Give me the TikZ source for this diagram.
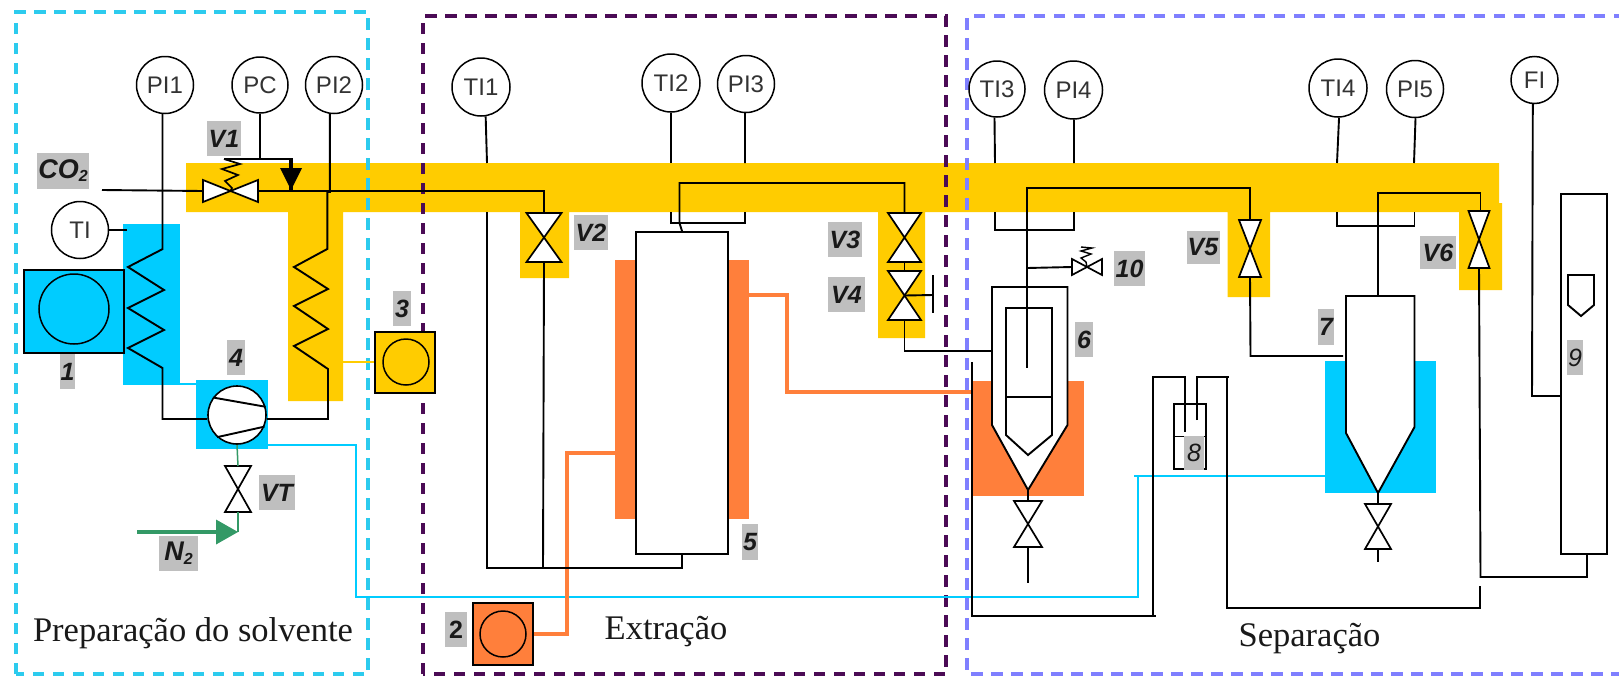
\documentclass[tikz,border=0pt]{standalone}
\usepackage{fontspec}
\setmainfont{Liberation Serif}
\newfontfamily\arialf{Liberation Sans}
\definecolor{ygold}{HTML}{FFCC00}
\definecolor{icecy}{HTML}{00CCFF}
\definecolor{hotor}{HTML}{FF7F3B}
\definecolor{framecy}{HTML}{2CCBEE}
\definecolor{framepu}{HTML}{4B0B55}
\definecolor{framevi}{HTML}{7F7FFF}
\definecolor{nitro}{HTML}{339966}
\definecolor{taggrey}{HTML}{BFBFBF}
\definecolor{insttext}{HTML}{333333}
\tikzset{
  pipe/.style={draw=black,line width=1.9pt,line join=miter},
  inst/.style={circle,draw=black,line width=1.5pt,fill=white,inner sep=0pt,text=insttext,font=\arialf\fontsize{24}{24}\selectfont},
  tagbox/.style={fill=taggrey,inner sep=0pt,font=\arialf\bfseries\itshape\fontsize{25}{25}\selectfont,text=black!90},
  areatext/.style={inner sep=0pt,font=\fontsize{34.5}{34.5}\selectfont,text=black!90},
  zonedash/.style={line width=4pt,dash pattern=on 11.5pt off 8.5pt},
  hotline/.style={draw=hotor,line width=4pt},
  coldline/.style={draw=icecy,line width=2.2pt},
  roundbox/.style={circle,draw=black,line width=1.5pt,inner sep=0pt},
  valvebox/.style={inner sep=0pt,outer sep=0pt},
}
% vertical valve: name, x, y, width, height
\newcommand{\vvalve}[5]{%
  \node[valvebox,minimum width=#4pt,minimum height=#5pt] (#1) at (#2,#3) {};
  \draw[pipe,fill=white,line width=1.7pt] (#1.north west) -- (#1.north east) -- (#1.south west) -- (#1.south east) -- cycle;}
% horizontal valve
\newcommand{\hvalve}[5]{%
  \node[valvebox,minimum width=#4pt,minimum height=#5pt] (#1) at (#2,#3) {};
  \draw[pipe,fill=white,line width=1.7pt] (#1.north west) -- (#1.south east) -- (#1.north east) -- (#1.south west) -- cycle;}
\newcommand{\lbl}[6]{\node[tagbox,minimum width=#4pt,minimum height=#5pt] (#1) at (#2,#3) {#6};}
\begin{document}
\begin{tikzpicture}[x=1pt,y=-1pt]
\useasboundingbox (0,0) rectangle (1619,675);
\fill[white] (0,0) rectangle (1619,675);
% --- coloured fills
\fill[ygold] (186,163) -- (1499,163) -- (1499,203) -- (1502,203) -- (1502,290) -- (1459,290) -- (1459,212)
  -- (1270,212) -- (1270,297) -- (1227.5,297) -- (1227.5,212) -- (925,212) -- (925,338) -- (878,338) -- (878,212)
  -- (569,212) -- (569,278) -- (520,278) -- (520,212) -- (343,212) -- (343,401) -- (288,401) -- (288,212) -- (186,212) -- cycle;
\fill[icecy] (123,224) rectangle (179.5,385);
\fill[icecy] (196,380) rectangle (268,449);
\fill[icecy] (1325,361) rectangle (1436,493);
\fill[hotor] (615,260) rectangle (749,519);
\fill[hotor] (972,381) rectangle (1084,496);
% --- zone frames
\draw[framecy,zonedash] (16,674) -- (16,12) -- (368,12) -- (368,674) -- cycle;
\draw[framepu,zonedash] (423,674) -- (423,16) -- (946,16) -- (946,674) -- cycle;
\draw[framevi,zonedash] (1625,16) -- (967,16) -- (967,674) -- (1625,674);
% --- instruments
\node[inst,minimum size=57pt] (PI1) at (165,85) {PI1};
\node[inst,minimum size=56pt] (PC) at (260,85) {PC};
\node[inst,minimum size=57pt] (PI2) at (334,85) {PI2};
\node[inst,minimum size=57pt] (TI) at (80,230) {TI};
\node[inst,minimum size=58pt] (TI1) at (481,87) {TI1};
\node[inst,minimum size=58pt] (TI2) at (671,83) {TI2};
\node[inst,minimum size=57pt] (PI3) at (746,84) {PI3};
\node[inst,minimum size=56pt] (TI3) at (997,89) {TI3};
\node[inst,minimum size=58pt] (PI4) at (1073.5,90) {PI4};
\node[inst,minimum size=58pt] (TI4) at (1338,88) {TI4};
\node[inst,minimum size=57pt] (PI5) at (1415,89) {PI5};
\node[inst,minimum size=47pt] (FI) at (1534.5,80) {FI};
% --- equipment boxes
\node[draw=black,line width=1.9pt,fill=icecy,minimum width=100pt,minimum height=83pt,inner sep=0pt] (B1) at (74,311.5) {};
\node[roundbox,minimum size=70pt] (B1c) at (74,309) {};
\node[draw=black,line width=1.9pt,fill=ygold,minimum width=60pt,minimum height=61pt,inner sep=0pt] (B3) at (405,362.5) {};
\node[roundbox,minimum size=46pt] (B3c) at (406,362) {};
\node[draw=black,line width=1.9pt,fill=hotor,minimum width=60pt,minimum height=62pt,inner sep=0pt] (B2) at (503,634) {};
\node[roundbox,minimum size=46pt] (B2c) at (503,634) {};
% --- thin coloured links
\coordinate (chilltap) at (179.5,384);
\coordinate (pumptap) at (196,384);
\draw[icecy,line width=1.5pt] (chilltap) -- (pumptap);
\coordinate (legtap) at (343,362);
\draw[ygold,line width=1.5pt] (legtap) -- (B3.west |- legtap);
% --- cold and hot service lines
\coordinate (coldA) at (268,445);
\coordinate (coldB) at (1325,476);
\draw[coldline] (coldA) -- (356,445) -- (356,597) -- (1138,597) -- (1138,476) -- (coldB);
\coordinate (coldStub) at (1134,476);
\draw[coldline] (coldStub) -- (1138,476);
\coordinate (jk5L) at (615,453);
\coordinate (jk5R) at (749,295);
\coordinate (jk6) at (972,392);
\draw[hotline] (B2.east) -- (567,634) -- (567,453) -- (jk5L);
\draw[hotline] (jk5R) -- (787,295) -- (787,392) -- (jk6);
% --- vessel 5
\node[draw=black,line width=1.9pt,fill=white,minimum width=92pt,minimum height=322pt,inner sep=0pt] (R5) at (682,393) {};
% --- valves
\hvalve{V1}{230.5}{191}{55}{22}
\vvalve{V2}{544}{237.5}{35}{49}
\vvalve{V3}{904.5}{237.5}{33}{49}
\vvalve{V4}{904.5}{295.5}{33}{49}
\vvalve{V5}{1250}{248.5}{22}{57}
\vvalve{V6}{1479}{239.5}{21}{57}
\vvalve{VT}{238}{489}{26}{46}
\vvalve{V6out}{1028}{524}{28}{46}
\vvalve{V7out}{1378}{526.5}{26}{45}
\hvalve{V10}{1087}{267}{30}{16}
% --- pump 4
\node[circle,draw=black,line width=1.6pt,fill=white,minimum size=58pt,inner sep=0pt] (P4) at (237,415) {};
\draw[pipe] (P4.144) -- (P4.16);
\draw[pipe] (P4.228) -- (P4.-23);
% --- nitrogen feed
\coordinate (n2in) at (137,532);
\coordinate (n2tip) at (238,532);
\draw[nitro,line width=1.5pt] (P4.south) -- (VT.north);
\draw[nitro,line width=1.5pt] (VT.south) -- (n2tip);
\draw[nitro,line width=4pt] (n2in) -- (218,532);
\fill[nitro] (216,519.5) -- (216,544.5) -- (n2tip) -- cycle;
% --- process lines, preparation zone
\coordinate (co2in) at (102,190);
\draw[pipe] (co2in) -- (V1.west);
\draw[pipe] (V1.east) -| (V2.north);
\coordinate (tiend) at (127,230);
\draw[pipe] (TI.east) -- (tiend);
\draw[pipe] (PI1.265) -- ++(0,135) -- (128,267) -- (164,290) -- (128,308) -- (164,330) -- (128,348) -- (162.5,368) -- (162.5,419) -- (P4.west |- 0,419);
\draw[pipe] (PI2.262) -- ++(0,78) -- ++(-2.6,0) -- ++(0,57) -- (294,267) -- (328,289) -- (294,306) -- (328,329) -- (294,346) -- (328,369) -- (328,419) -- (P4.east |- 0,419);
% PC and its actuator
\coordinate (springTop) at (224,159);
\coordinate (actTip) at (291,190);
\draw[pipe] (PC.south) -- (260,159);
\draw[pipe] (springTop) -- (291,159);
\draw[black,line width=3.5pt] (291,158) -- (actTip);
\fill[black] (280,168) -- (302,168) -- (actTip) -- cycle;
\draw[pipe,line width=1.7pt] (V1.center) -- (232,188) -- (225,181) -- (238,175) -- (222,169) -- (240,164) -- (springTop);
% --- extraction zone
\coordinate (tiboxb) at (682,568);
\draw[pipe] (TI1.279) -- (487,163);
\draw[pipe] (487,212) -- (487,568) -- (tiboxb) -- (R5.south);
\draw[pipe] (V2.south) -- (543,568);
\draw[pipe] (TI2.south) -- (671,163);
\draw[pipe] (671,212) |- (745,223) -- (745,212);
\draw[pipe] (PI3.268) -- (745,163);
\draw[pipe] (V3.north) -- (904.5,183) -| (679.5,223) -- (R5.north);
\draw[pipe] (V3.south) -- (V4.north);
\coordinate (v4hand) at (933,295);
\draw[pipe] (V4.center) -- (v4hand);
\draw[pipe] (933,275) -- (933,313);
\coordinate (v4end) at (1015,351);
\draw[pipe] (V4.south) |- (v4end);
% --- separation zone: vessel 6
\coordinate (v6apex) at (1028,490);
\draw[pipe,fill=white] (992,287) -- (1067.5,287) -- (1067.5,425) -- (v6apex) -- (992,425) -- cycle;
\draw[pipe] (1006,308) -- (1052,308) -- (1052,435) -- (1028,455) -- (1006,435) -- cycle;
\draw[pipe] (1006,397) -- (1052,397);
\draw[pipe] (v6apex) -- (V6out.north);
\coordinate (v6end) at (1028,583);
\draw[pipe] (V6out.south) -- (v6end);
\draw[pipe] (TI3.265) -- (995,163);
\draw[pipe] (995,212) |- (1074,230) -- (1074,212);
\draw[pipe] (PI4.271) -- (1074,163);
\coordinate (diptube) at (1027,368);
\draw[pipe] (V5.north) |- (1027,188) -- (diptube);
\draw[pipe] (1027,268) -- (V10.west);
\draw[pipe,line width=1.4pt] (V10.center) -- (1086,262) -- (1081,258) -- (1091,254) -- (1081,251) -- (1092,248) -- (1081,247);
% vessel 6 return
\coordinate (v6in) at (972,362);
\coordinate (retA) at (1156,616);
\draw[pipe] (v6in) -- (972,616) -- (retA);
% vessel 8
\node[draw=black,line width=1.9pt,minimum width=32.5pt,minimum height=65pt,inner sep=0pt] (T8) at (1190,436.5) {};
\draw[pipe] (T8.west) -- (T8.east);
\coordinate (t8in) at (1185,432);
\coordinate (t8out) at (1197,420);
\draw[pipe] (1153,616) -- (1153,377) -- (1185,377) -- (t8in);
\draw[pipe] (t8out) -- (1197,377) -- (1228.5,377);
\coordinate (t8ret) at (1480,586);
\draw[pipe] (1227,377) -- (1227,608) -- (1480,608) -- (t8ret);
% vessel 7
\coordinate (v7apex) at (1378,493);
\draw[pipe,fill=white] (1346,296) -- (1414.5,296) -- (1414.5,427) -- (v7apex) -- (1346,433) -- cycle;
\draw[pipe] (v7apex) -- (V7out.north);
\coordinate (v7end) at (1378,562);
\draw[pipe] (V7out.south) -- (v7end);
\draw[pipe] (1378,296) -- (1378,193) -| (1480.5,211);
\coordinate (v7in) at (1343,356);
\draw[pipe] (V5.south) -- (1250.5,356) -- (v7in);
\draw[pipe] (TI4.272) -- (1337,163);
\draw[pipe] (1337,212) |- (1414.5,226) -- (1414.5,212);
\draw[pipe] (PI5.271) -- (1414,163);
% rotameter 9
\node[draw=black,line width=1.9pt,fill=white,minimum width=46pt,minimum height=360pt,inner sep=0pt] (R9) at (1584,374) {};
\draw[pipe] (1568,275) -- (1594,275) -- (1594,305) -- (1581,316) -- (1568,305) -- cycle;
\draw[pipe] (FI.266) -- (1532,396) -- (R9.west |- 0,396);
\draw[pipe] (V6.south) -- (1480.5,577) -- (1587,577) -- (R9.south -| 1587,0);
% --- tags
\lbl{t1}{67.5}{371.5}{15}{35}{1}
\lbl{t2}{456}{629.5}{22}{35}{\upshape 2}
\lbl{t3}{402}{308.5}{18}{35}{3}
\lbl{t4}{236}{357.5}{18}{35}{4}
\lbl{t5}{750}{542}{16}{36}{5}
\lbl{t6}{1084}{339.5}{17.5}{35}{6}
\lbl{t7}{1326}{327}{16}{36}{7}
\lbl{t8}{1194}{453}{20.5}{34}{\mdseries 8}
\lbl{t9}{1575}{357.5}{16}{35}{\mdseries 9}
\lbl{t10}{1129.5}{268.5}{31}{35}{10}
\lbl{tV1}{224}{138.5}{34}{35}{V1}
\lbl{tV2}{591}{232.5}{34}{35}{V2}
\lbl{tV3}{845}{239.5}{34}{35}{V3}
\lbl{tV4}{846.5}{294.5}{37}{35}{V4}
\lbl{tV5}{1203}{247.5}{33}{33}{V5}
\lbl{tV6}{1438}{252.5}{36.5}{33}{V6}
\lbl{tVT}{277}{492.5}{36}{35}{VT}
\lbl{tCO}{63}{171}{52}{36}{\fontsize{27}{27}\selectfont CO\raisebox{-3pt}{\fontsize{16}{16}\selectfont 2}}
\lbl{tN}{178.5}{553.5}{39}{35}{\fontsize{27}{27}\selectfont N\raisebox{-4pt}{\fontsize{16}{16}\selectfont 2}}
% --- zone titles
\node[areatext] (zA) at (193,633) {Preparação do solvente};
\node[areatext] (zB) at (666,632) {Extração};
\node[areatext] (zC) at (1309.5,639) {Separação};
\end{tikzpicture}
\end{document}
